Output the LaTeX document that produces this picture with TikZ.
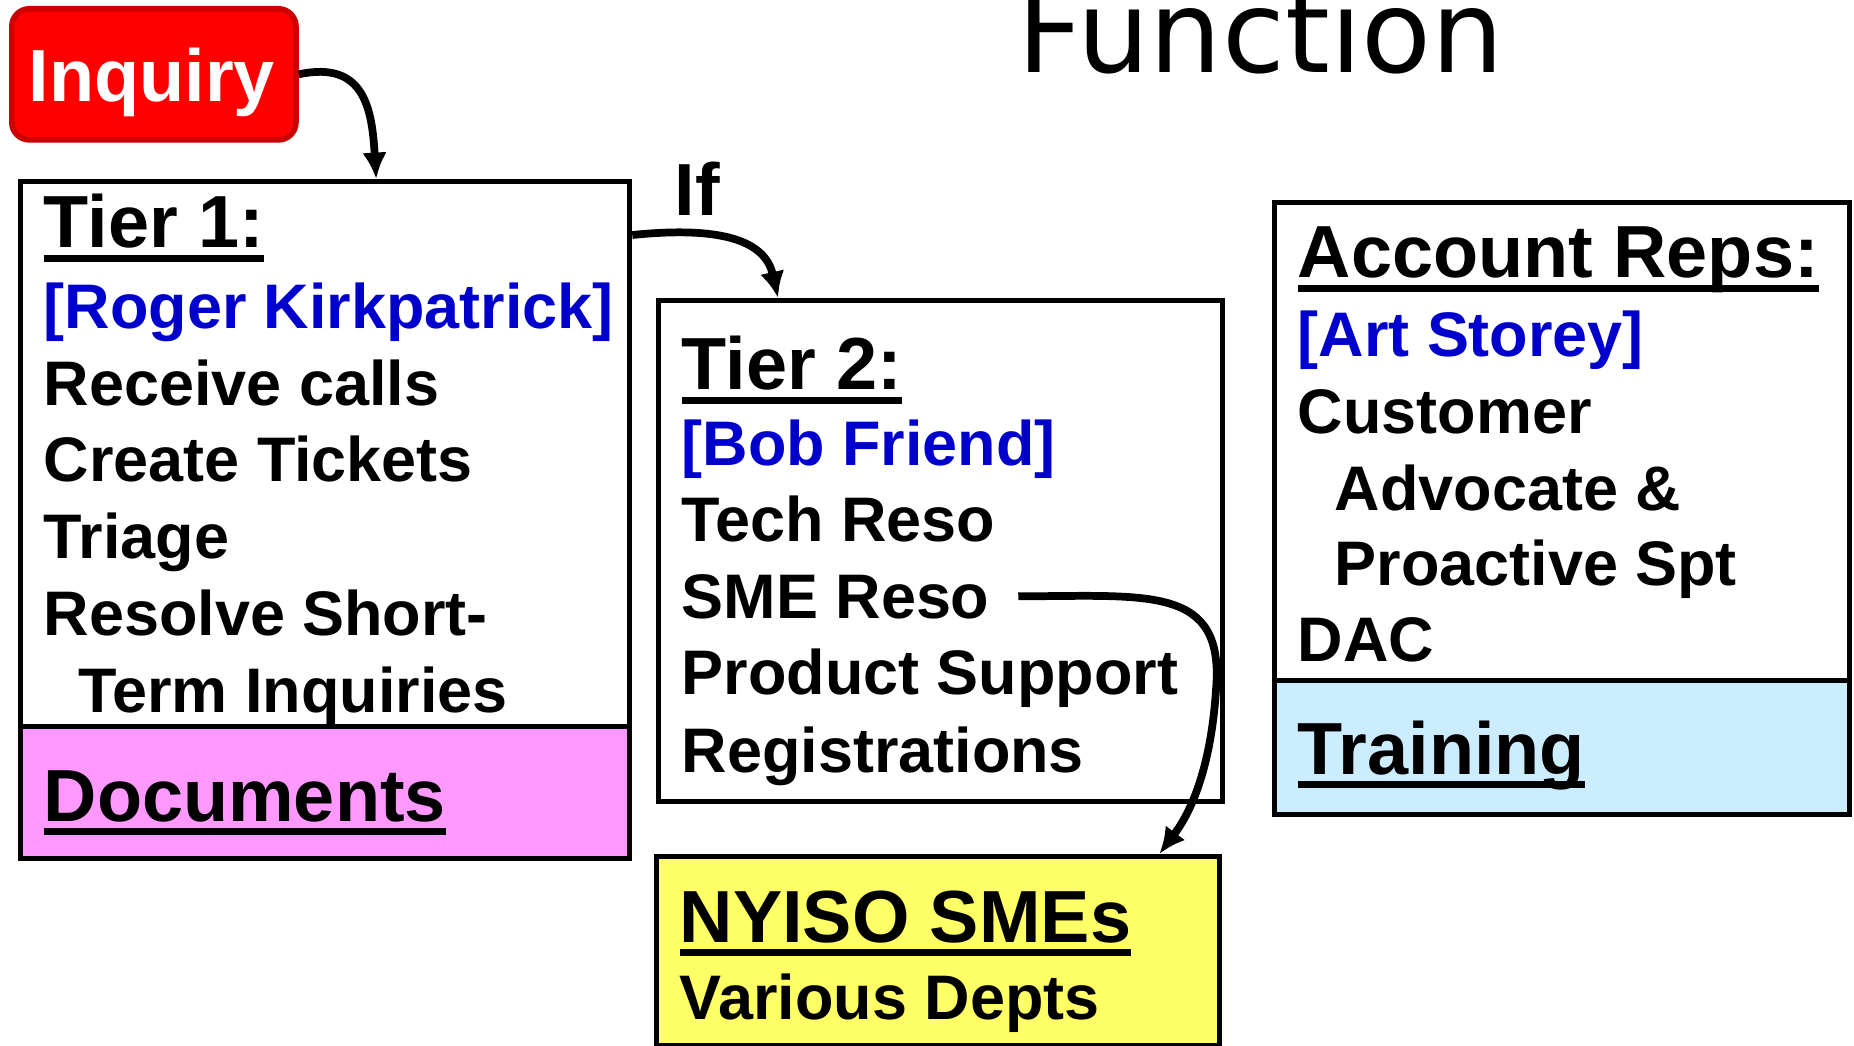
\documentclass[tikz,border=0pt]{standalone}
\usepackage{fontspec}
\setmainfont{Liberation Sans}
\newfontfamily\titlefont{DejaVu Sans}
\usetikzlibrary{arrows.meta}
\tikzset{>={Latex[width=7pt,length=7.5pt]}}
\definecolor{inqred}{HTML}{FF0000}
\definecolor{inqedge}{HTML}{CC0000}
\definecolor{docpink}{HTML}{FF99FF}
\definecolor{smeyellow}{HTML}{FFFF66}
\definecolor{trainblue}{HTML}{CCECFF}
\definecolor{repblue}{HTML}{0000CC}
\newcommand{\ulhead}[1]{\setbox0=\hbox{#1}\rlap{\rule[-4pt]{\wd0}{1.9pt}}\box0}

\begin{document}
\begin{tikzpicture}[x=0.01cm,y=-0.01cm,font=\bfseries\fontsize{17.9}{20}\selectfont]
\tikzstyle{box}=[draw,line width=1.4pt,rectangle,inner sep=0,anchor=north west]
\tikzstyle{t}=[anchor=base west,inner sep=0]
\tikzstyle{hd}=[t,font=\bfseries\fontsize{21}{24}\selectfont]
\tikzstyle{who}=[t,text=repblue]
\tikzstyle{flow}=[-{Latex[width=7pt,length=7.5pt]},line width=2.2pt]

    \useasboundingbox (0,0) rectangle (1854,1046);

    \node[anchor=base,inner sep=0,font=\titlefont\mdseries\fontsize{32.5}{34}\selectfont] (title) at (1261,73) {Function};

    % boxes
    \node[box,fill=inqred,draw=inqedge,line width=1.6pt,rounded corners=5pt,minimum width=2.84cm,minimum height=1.31cm] (inquiry) at (9,6) {};
    \node[box,minimum width=6.09cm,minimum height=5.45cm] (tier1) at (18,179) {};
    \node[box,fill=docpink,minimum width=6.09cm,minimum height=1.32cm] (docs) at (18,724) {};
    \node[box,minimum width=5.64cm,minimum height=5.01cm] (tier2) at (656,298) {};
    \node[box,fill=smeyellow,minimum width=5.63cm,minimum height=1.89cm] (nyiso) at (654,854) {};
    \node[box,minimum width=5.75cm,minimum height=4.78cm] (reps) at (1272,200) {};
    \node[box,fill=trainblue,minimum width=5.75cm,minimum height=1.34cm] (training) at (1272,678) {};

    % texts
    \node[hd,text=white] (inqtxt) at (28,102) {Inquiry};

    \node[hd] (t1head) at (43,248) {\ulhead{Tier 1:}};
    \node[who] (roger) at (43,329) {[Roger Kirkpatrick]};
    \node[t] (recv) at (43,406) {Receive calls};
    \node[t] (tickets) at (43,482) {Create Tickets};
    \node[t] (triage) at (43,558) {Triage};
    \node[t] (resolve) at (43,636) {Resolve Short-};
    \node[t] (term) at (78,712) {Term Inquiries};
    \node[hd] (doctxt) at (43,821) {\ulhead{Documents}};

    \node[hd] (if) at (674,216) {If};

    \node[hd] (t2head) at (681,390) {\ulhead{Tier 2:}};
    \node[who] (bob) at (681,466) {[Bob Friend]};
    \node[t] (tech) at (681,542) {Tech Reso};
    \node[t] (sme) at (681,618) {SME Reso};
    \node[t] (prod) at (681,695) {Product Support};
    \node[t] (reg) at (681,772) {Registrations};

    \node[hd] (nyhead) at (679,942) {\ulhead{NYISO SMEs}};
    \node[t] (depts) at (679,1019) {Various Depts};

    \node[hd] (repshead) at (1297,278) {\ulhead{Account Reps:}};
    \node[who] (art) at (1297,357) {[Art Storey]};
    \node[t] (cust) at (1297,434) {Customer};
    \node[t] (advo) at (1334,511) {Advocate \&};
    \node[t] (proact) at (1334,586) {Proactive Spt};
    \node[t] (dac) at (1297,662) {DAC};
    \node[hd] (traintxt) at (1297,774) {\ulhead{Training}};

    % arrows
    \draw[flow] (inquiry.east) .. controls (365,60) and (372,110) .. ([xshift=3.58cm]tier1.north west);
    \draw[flow] ([yshift=-0.56cm]tier1.north east) .. controls (720,226) and (765,240) .. ([xshift=1.22cm]tier2.north west);
    \draw[flow] ([xshift=0.28cm]sme.east) .. controls (1150,596) and (1225,585) .. (1216,690)
        .. controls (1210,780) and (1185,820) .. ([xshift=5.05cm]nyiso.north west);

\end{tikzpicture}
\end{document}
